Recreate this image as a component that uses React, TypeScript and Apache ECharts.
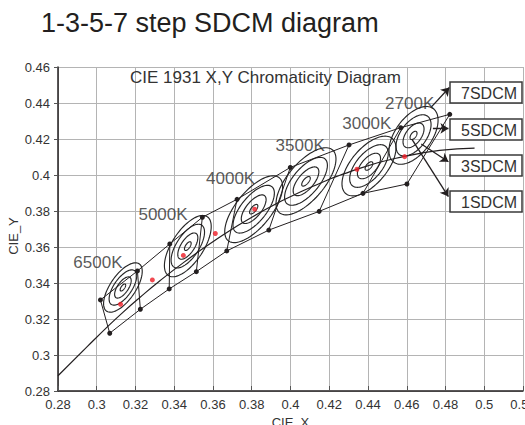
import React, { useEffect, useRef } from "react";
import * as echarts from "echarts";

const chartTitle = "1-3-5-7 step SDCM diagram";
const diagramTitle = "CIE 1931 X,Y Chromaticity Diagram";

// Planckian locus
const locus: number[][] = [
  [0.28, 0.2885], [0.2952, 0.3048], [0.3064, 0.3166], [0.3135, 0.3237],
  [0.3221, 0.3318], [0.3323, 0.341], [0.3451, 0.3516], [0.3607, 0.3635],
  [0.3805, 0.3768], [0.4053, 0.3907], [0.4369, 0.4041], [0.4599, 0.4106],
  [0.477, 0.4137], [0.495, 0.4149],
];

// quadrangle corners: upper and lower chains
const upperCorners: number[][] = [
  [0.3019, 0.3306], [0.321, 0.3467], [0.3377, 0.3617], [0.3545, 0.3765],
  [0.3724, 0.3865], [0.3999, 0.4042], [0.4302, 0.4167], [0.4569, 0.4263],
  [0.4822, 0.4337],
];
const lowerCorners: number[][] = [
  [0.3067, 0.3121], [0.3225, 0.3254], [0.3374, 0.3367], [0.3514, 0.3463],
  [0.3671, 0.3578], [0.3888, 0.3694], [0.4148, 0.3798], [0.4374, 0.3898],
  [0.4601, 0.395],
];

// nominal CCT points (red)
const nominalPoints: number[][] = [
  [0.3123, 0.3282], [0.3287, 0.3417], [0.3447, 0.3553], [0.3612, 0.3675],
  [0.3815, 0.381], [0.4343, 0.4032], [0.4589, 0.4102],
];

// MacAdam ellipses (1-step)
const ellipseNames = ["6500K", "5000K", "4000K", "3500K", "3000K", "2700K"];
const ellipseCenters: number[][] = [
  [0.3135, 0.3375], [0.347, 0.3605], [0.381, 0.381], [0.408, 0.3965],
  [0.4405, 0.405], [0.4635, 0.422],
];
const ellipseA = [0.00223, 0.00274, 0.00313, 0.00317, 0.00278, 0.00258];
const ellipseB = [0.00095, 0.00118, 0.00134, 0.00139, 0.00136, 0.00137];
const ellipseAngle = [58.23, 59.37, 54.0, 52.9, 53.17, 57.28];
const sdcmSteps = [1, 3, 5, 7];

// CCT label anchors
const cctLabels = ["6500K", "5000K", "4000K", "3500K", "3000K", "2700K"];
const cctLabelPos: number[][] = [
  [0.3006, 0.3515], [0.3342, 0.3778], [0.3691, 0.3978], [0.405, 0.4163],
  [0.4394, 0.4287], [0.4615, 0.4398],
];

// SDCM legend arrows
const sdcmLabels = ["7SDCM", "5SDCM", "3SDCM", "1SDCM"];
const arrowStart: number[][] = [
  [0.4725, 0.4376], [0.4735, 0.4259], [0.4675, 0.4172], [0.4628, 0.4196],
];
const arrowEnd: number[][] = [
  [0.482, 0.4486], [0.4815, 0.4259], [0.4815, 0.4074], [0.4815, 0.388],
];

const xTicks = { min: 0.28, max: 0.52, interval: 0.02 };
const yTicks = { min: 0.28, max: 0.46, interval: 0.02 };

const FONT = "Liberation Sans, Arial, Helvetica, sans-serif";
const INK = "#231f20";

export default function App() {
  const ref = useRef<HTMLDivElement>(null);
  useEffect(() => {
    if (!ref.current) return;
    const chart = echarts.init(ref.current, undefined, { renderer: "svg" });

    const ellipseData = ellipseCenters.map((c, i) => ({
      name: ellipseNames[i],
      value: [c[0], c[1], ellipseA[i], ellipseB[i], ellipseAngle[i]],
    }));

    const rungs = upperCorners.map((u, i) => ({ coords: [u, lowerCorners[i]] }));
    const arrows = arrowStart.map((s, i) => ({ coords: [s, arrowEnd[i]] }));

    const boxTops = [82, 119, 155, 191];
    const boxGraphics: any[] = [];
    sdcmLabels.forEach((t, i) => {
      boxGraphics.push({
        type: "rect",
        z: 100,
        shape: { x: 450, y: boxTops[i], width: 72, height: 21 },
        style: { fill: "#fff", stroke: "#3a3a3a", lineWidth: 1.5 },
      });
      boxGraphics.push({
        type: "text",
        z: 101,
        x: 489,
        y: boxTops[i] + 11,
        style: {
          text: t,
          fontSize: 16,
          fontFamily: FONT,
          fill: "#333",
          textAlign: "center",
          textVerticalAlign: "middle",
        },
      });
    });

    chart.setOption({
      animation: false,
      title: {
        text: chartTitle,
        left: 36,
        top: 4,
        textStyle: { fontSize: 27, fontWeight: "normal", color: INK, fontFamily: FONT },
      },
      grid: {
        left: 58,
        top: 67,
        right: 2,
        bottom: 34,
        containLabel: false,
        outerBoundsMode: "none",
      },
      xAxis: {
        type: "value",
        min: xTicks.min,
        max: xTicks.max,
        interval: xTicks.interval,
        name: "CIE_X",
        nameLocation: "middle",
        nameGap: 21,
        nameTextStyle: { fontSize: 13, color: "#333", fontFamily: FONT, verticalAlign: "top" },
        axisLine: { lineStyle: { color: INK, width: 1.5 } },
        axisTick: { inside: true, length: 5, lineStyle: { color: "#555" } },
        axisLabel: { fontSize: 13, color: "#333", fontFamily: FONT, margin: 7, showMaxLabel: true, hideOverlap: false },
        splitLine: { show: true, lineStyle: { color: "#b4b4b4", width: 1 } },
      },
      yAxis: {
        type: "value",
        min: yTicks.min,
        max: yTicks.max,
        interval: yTicks.interval,
        axisLine: { show: true, lineStyle: { color: INK, width: 1.5 } },
        axisTick: { show: true, inside: false, length: 4, lineStyle: { color: "#555" } },
        axisLabel: { fontSize: 13, color: "#333", fontFamily: FONT, margin: 8, showMaxLabel: true },
        splitLine: { show: true, lineStyle: { color: "#b4b4b4", width: 1 } },
      },
      graphic: [
        {
          type: "text",
          z: 100,
          x: 130,
          y: 77,
          style: {
            text: diagramTitle,
            fontSize: 17,
            fontFamily: FONT,
            fill: "#333",
            textAlign: "left",
            textVerticalAlign: "middle",
          },
        },
        {
          type: "text",
          z: 100,
          x: 13,
          y: 236,
          rotation: Math.PI / 2,
          style: {
            text: "CIE_Y",
            fontSize: 13,
            fontFamily: FONT,
            fill: "#333",
            textAlign: "center",
            textVerticalAlign: "middle",
          },
        },
        ...boxGraphics,
      ],
      series: [
        {
          type: "custom",
          name: "ellipses",
          data: ellipseData,
          encode: { x: 0, y: 1 },
          silent: true,
          renderItem: (params: any, api: any) => {
            const cx = api.value(0);
            const cy = api.value(1);
            const a1 = api.value(2);
            const b1 = api.value(3);
            const ang = (api.value(4) * Math.PI) / 180;
            const children = sdcmSteps.map((k) => {
              const pts: number[][] = [];
              const n = 90;
              for (let j = 0; j < n; j++) {
                const t = (j / n) * Math.PI * 2;
                const ca = k * a1 * Math.cos(t);
                const sb = k * b1 * Math.sin(t);
                const dx = ca * Math.cos(ang) - sb * Math.sin(ang);
                const dy = ca * Math.sin(ang) + sb * Math.cos(ang);
                pts.push(api.coord([cx + dx, cy + dy]));
              }
              return {
                type: "polygon",
                shape: { points: pts },
                style: { fill: "none", stroke: "#262626", lineWidth: 1.15 },
              };
            });
            return { type: "group", children };
          },
        },
        {
          type: "line",
          name: "locus",
          data: locus,
          smooth: true,
          symbol: "none",
          lineStyle: { color: INK, width: 1.2 },
          silent: true,
        },
        {
          type: "lines",
          name: "rungs",
          coordinateSystem: "cartesian2d",
          data: rungs,
          symbol: "none",
          lineStyle: { color: INK, width: 1, opacity: 1 },
          silent: true,
        },
        {
          type: "line",
          name: "upper",
          data: upperCorners,
          symbol: "circle",
          symbolSize: 5,
          itemStyle: { color: INK },
          lineStyle: { color: INK, width: 1 },
          silent: true,
        },
        {
          type: "line",
          name: "lower",
          data: lowerCorners,
          symbol: "circle",
          symbolSize: 5,
          itemStyle: { color: INK },
          lineStyle: { color: INK, width: 1 },
          silent: true,
        },
        {
          type: "scatter",
          name: "nominal",
          data: nominalPoints,
          symbolSize: 5,
          itemStyle: { color: "#ee1c25" },
          silent: true,
          z: 5,
        },
        {
          type: "lines",
          name: "arrows",
          coordinateSystem: "cartesian2d",
          data: arrows,
          symbol: ["none", "arrow"],
          symbolSize: 8,
          lineStyle: { color: INK, width: 1.3, opacity: 1 },
          silent: true,
        },
        {
          type: "scatter",
          name: "cct",
          data: cctLabelPos.map((p, i) => ({ name: cctLabels[i], value: p })),
          symbolSize: 1,
          itemStyle: { color: "transparent" },
          label: {
            show: true,
            position: "inside",
            formatter: (p: any) => p.name,
            fontSize: 17,
            fontFamily: FONT,
            color: "#2e2e2e",
          },
          silent: true,
          z: 6,
        },
      ],
    });
    return () => chart.dispose();
  }, []);
  return (
    <div
      ref={ref}
      style={{ position: "fixed", left: 0, top: 0, width: 525, height: 425, background: "#fff" }}
    />
  );
}
